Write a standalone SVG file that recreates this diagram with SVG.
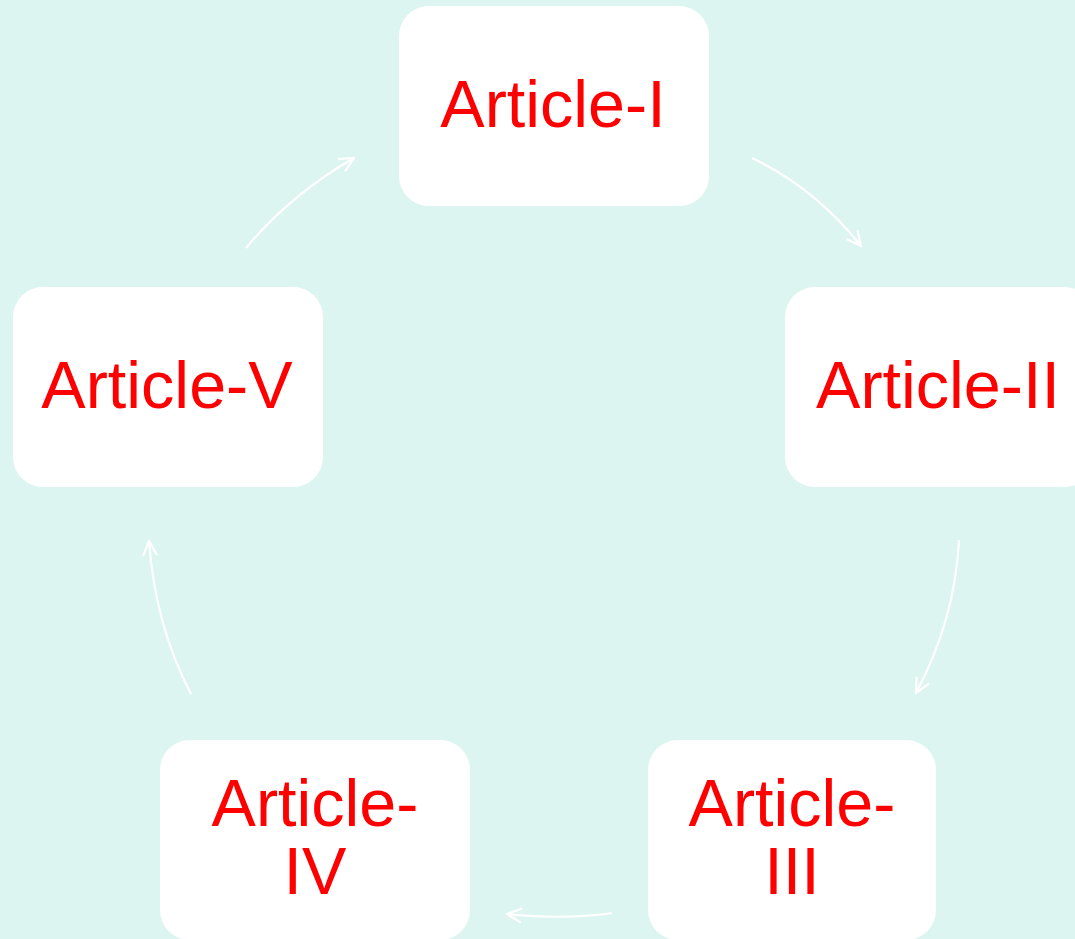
<svg xmlns="http://www.w3.org/2000/svg" width="1075" height="939" viewBox="0 0 1075 939">
<defs>
<style>
.node rect{fill:#ffffff;}
.node text{font-family:"Liberation Sans",Arial,sans-serif;font-size:66.5px;fill:#ff0000;text-anchor:middle;}
.edge{fill:none;stroke:#ffffff;stroke-width:2.2;marker-end:url(#arr);}
</style>
<marker id="arr" viewBox="0 0 18 18" refX="16.5" refY="9" markerWidth="18" markerHeight="18" markerUnits="userSpaceOnUse" orient="auto">
<path d="M2,2 L16.5,9 L2,16" fill="none" stroke="#ffffff" stroke-width="2.2"/>
</marker>
</defs>
<rect x="0" y="0" width="1075" height="939" fill="#ddf5f0"/>
<g id="connectors">
<path class="edge" d="M246,248 Q290,195 354,158"/>
<path class="edge" d="M752,158 Q815,188 861,246"/>
<path class="edge" d="M959,540 Q955,620 916,693"/>
<path class="edge" d="M612,913 Q565,920 507,914"/>
<path class="edge" d="M191,694 Q155,625 149,541"/>
</g>
<g id="node1" class="node">
<rect x="399" y="6" width="310" height="200" rx="30"/>
<text x="553" y="127">Article-I</text>
</g>
<g id="node2" class="node">
<rect x="785" y="287" width="310" height="200" rx="30"/>
<text x="938" y="408">Article-II</text>
</g>
<g id="node3" class="node">
<rect x="648" y="740" width="288" height="200" rx="30"/>
<text x="792" y="826">Article-</text>
<text x="792" y="894">III</text>
</g>
<g id="node4" class="node">
<rect x="160" y="740" width="310" height="200" rx="30"/>
<text x="315" y="826">Article-</text>
<text x="315" y="894">IV</text>
</g>
<g id="node5" class="node">
<rect x="13" y="287" width="310" height="200" rx="30"/>
<text x="167" y="408">Article-V</text>
</g>
</svg>
